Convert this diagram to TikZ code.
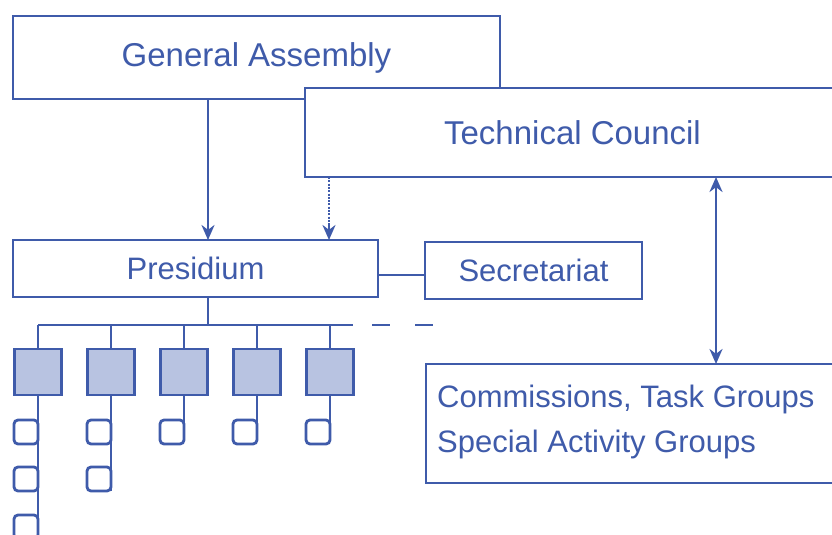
\documentclass[tikz,border=0pt]{standalone}
\usepackage{fontspec}
\setmainfont{Liberation Sans}
\usetikzlibrary{arrows.meta,calc}
\definecolor{ln}{HTML}{3F5BAA}
\definecolor{fl}{HTML}{B8C3E1}
\begin{document}
\begin{tikzpicture}[x=1pt,y=-1pt,
  box/.style={draw=ln, fill=white, line width=2.8pt, inner sep=0pt, outer sep=0pt, text=ln, font=\fontsize{31}{36}\selectfont},
  bigbox/.style={box, font=\fontsize{33}{38}\selectfont},
  conn/.style={draw=ln, line width=2.8pt},
  arr/.style={conn, -{Stealth[length=15pt,width=13pt]}},
  sq/.style={draw=ln, fill=fl, line width=2.8pt, minimum width=47pt, minimum height=46pt, inner sep=0pt, outer sep=0pt},
  sm/.style={draw=ln, fill=white, line width=2.8pt, rounded corners=4pt, minimum size=24pt, inner sep=0pt, outer sep=0pt},
  txt/.style={text=ln, inner sep=0pt, font=\fontsize{31}{36}\selectfont}]
\clip (0,0) rectangle (832,535);
\fill[white] (0,0) rectangle (832,535);
% top boxes
\node[bigbox, anchor=north west, minimum width=487pt, minimum height=83pt] (ga) at (13,16) {General Assembly};
\coordinate (x1) at (208,0);
\draw[arr] (ga.south -| x1) -- (208,240);
\node[bigbox, anchor=north west, minimum width=535pt, minimum height=89pt] (tc) at (305,88) {Technical Council};
\node[box, anchor=north west, minimum width=365pt, minimum height=57pt] (pr) at (13,240) {Presidium};
\node[box, anchor=north west, minimum width=217pt, minimum height=57pt] (se) at (425,242) {Secretariat};
\node[box, anchor=north west, minimum width=414pt, minimum height=119pt] (cm) at (426,364) {};
\node[txt, anchor=base west] (c1) at (437,407) {Commissions, Task Groups};
\node[txt, anchor=base west] (c2) at (437,452) {Special Activity Groups};
% connectors
\coordinate (x2) at (329,0);
\draw[conn, dash pattern=on 2pt off 1.3pt] (tc.south -| x2) -- ($(pr.north -| x2)+(0,-13)$);
\draw[arr, solid] ($(pr.north -| x2)+(0,-15)$) -- (pr.north -| x2);
\coordinate (x3) at (716,0);
\draw[conn, {Stealth[length=15pt,width=13pt]}-{Stealth[length=15pt,width=13pt]}] (tc.south -| x3) -- (cm.north -| x3);
\coordinate (y1) at (0,275);
\draw[conn] (pr.east |- y1) -- (se.west |- y1);
% lower structure
\coordinate (bus) at (208,325);
\node[sq] (b1) at (38,372) {};
\node[sq] (b2) at (111,372) {};
\node[sq] (b3) at (184,372) {};
\node[sq] (b4) at (257,372) {};
\node[sq] (b5) at (330,372) {};
\coordinate (busend) at (353,325);
\coordinate (dashend) at (440,325);
\draw[conn] (pr.south -| bus) -- (bus);
\draw[conn] (b1.north |- bus) -- (busend);
\draw[conn, dash pattern=on 18pt off 25pt, dash phase=24pt] (busend) -- (dashend);
\foreach \b in {b1,b2,b3,b4,b5}{\draw[conn] (\b.north) -- (\b.north |- bus);}
\coordinate (bot) at (0,545);
\draw[conn] (b1.south) -- (b1.south |- bot);
\node[sm] (s11) at (26,432) {};
\node[sm] (s12) at (26,479) {};
\node[sm] (s13) at (26,527) {};
\node[sm] (s21) at (99,432) {};
\node[sm] (s22) at (99,479) {};
\node[sm] (s31) at (172,432) {};
\node[sm] (s41) at (245,432) {};
\node[sm] (s51) at (318,432) {};
\draw[conn] (b1.south) -- (b1.south |- bot);
\draw[conn] (b2.south) -- (b2.south |- s22.south);
\draw[conn] (b3.south) -- (b3.south |- s31.center);
\draw[conn] (b4.south) -- (b4.south |- s41.center);
\draw[conn] (b5.south) -- (b5.south |- s51.center);
\end{tikzpicture}
\end{document}
